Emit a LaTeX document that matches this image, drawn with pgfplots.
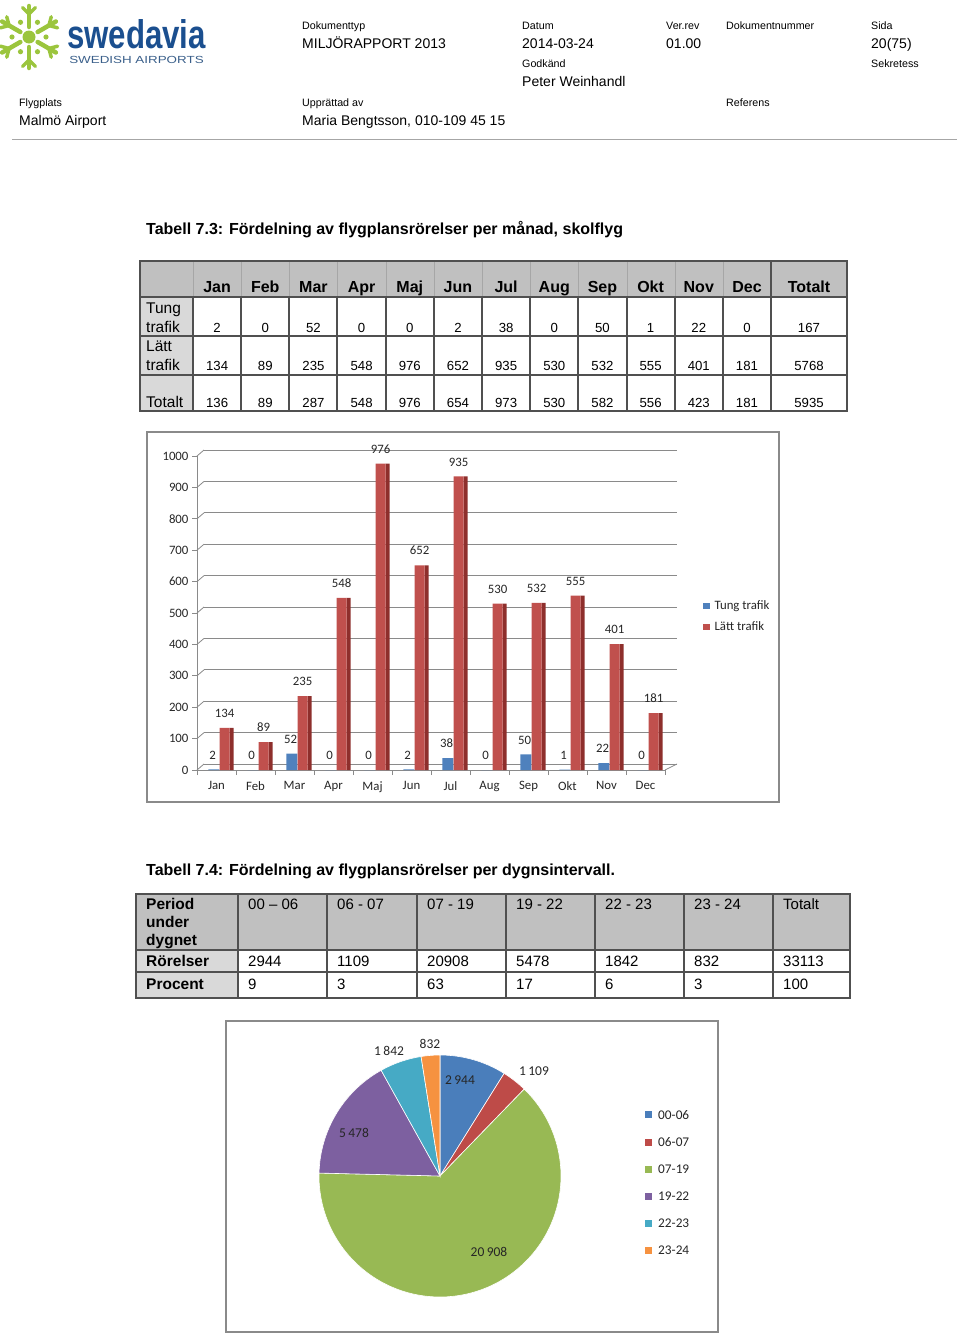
\documentclass[border=0pt]{standalone}
\usepackage{pgfplots}
\pgfplotsset{compat=1.18}
\usepackage{pgfplotstable}
\usepackage{fontspec}
\setmainfont{Liberation Sans}
\newfontfamily\calib{Carlito}
\newcommand\fs[1]{\fontsize{#1}{#1}\selectfont}
\definecolor{tblue}{HTML}{4F81BD}
\definecolor{tred}{HTML}{C0504D}
\definecolor{treddark}{HTML}{8E2F2C}
\definecolor{gridc}{HTML}{8A8A8A}
\definecolor{pie0}{HTML}{4A7EBB}
\definecolor{pie1}{HTML}{BE4B48}
\definecolor{pie2}{HTML}{98B954}
\definecolor{pie3}{HTML}{7D60A0}
\definecolor{pie4}{HTML}{46AAC5}
\definecolor{pie5}{HTML}{F69240}
\definecolor{swgreen}{HTML}{9BC53D}
\definecolor{swblue}{HTML}{1B4F8F}
\definecolor{swlight}{HTML}{3A5F8A}
\definecolor{hdrgray}{HTML}{C0C0C0}
\definecolor{lgray}{HTML}{D9D9D9}
\definecolor{tline}{HTML}{505050}
\pgfplotsset{
  sq/.style={legend image code/.code={\fill[##1] (0pt,-3pt) rectangle (6.5pt,3.5pt); \path (9.5pt,0pt);}},
  sqp/.style={legend image code/.code={\fill[##1] (0pt,-3pt) rectangle (7pt,4pt); \path (11.5pt,0pt);}}}

\pgfplotstableread{
idx m tung latt
0 Jan 2 134
1 Feb 0 89
2 Mar 52 235
3 Apr 0 548
4 Maj 0 976
5 Jun 2 652
6 Jul 38 935
7 Aug 0 530
8 Sep 50 532
9 Okt 1 555
10 Nov 22 401
11 Dec 0 181
}\monthly

\pgfplotstableread{
per val
00-06 2944
06-07 1109
07-19 20908
19-22 5478
22-23 1842
23-24 832
}\daily

\pgfplotstablegetelem{0}{val}\of\daily \edef\vA{\pgfplotsretval}
\pgfplotstablegetelem{1}{val}\of\daily \edef\vB{\pgfplotsretval}
\pgfplotstablegetelem{2}{val}\of\daily \edef\vC{\pgfplotsretval}
\pgfplotstablegetelem{3}{val}\of\daily \edef\vD{\pgfplotsretval}
\pgfplotstablegetelem{4}{val}\of\daily \edef\vE{\pgfplotsretval}
\pgfplotstablegetelem{5}{val}\of\daily \edef\vF{\pgfplotsretval}
\edef\tot{\the\numexpr\vA+\vB+\vC+\vD+\vE+\vF\relax}
% angles in tenths of a degree (integers), clockwise from 12 o'clock
\edef\tA{900}
\edef\tB{\the\numexpr 900-3600*(\vA)/\tot\relax}
\edef\tC{\the\numexpr 900-3600*(\vA+\vB)/\tot\relax}
\edef\tD{\the\numexpr 900-3600*(\vA+\vB+\vC)/\tot\relax}
\edef\tE{\the\numexpr 900-3600*(\vA+\vB+\vC+\vD)/\tot\relax}
\edef\tF{\the\numexpr 900-3600*(\vA+\vB+\vC+\vD+\vE)/\tot\relax}
\edef\tG{\the\numexpr 900-3600*(\vA+\vB+\vC+\vD+\vE+\vF)/\tot\relax}
\pgfmathsetmacro\aA{\tA/10}
\pgfmathsetmacro\aB{\tB/10}
\pgfmathsetmacro\aC{\tC/10}
\pgfmathsetmacro\aD{\tD/10}
\pgfmathsetmacro\aE{\tE/10}
\pgfmathsetmacro\aF{\tF/10}
\pgfmathsetmacro\aG{\tG/10}
\pgfmathsetmacro\xA{cos(\aA)}\pgfmathsetmacro\yA{sin(\aA)}
\pgfmathsetmacro\xB{cos(\aB)}\pgfmathsetmacro\yB{sin(\aB)}
\pgfmathsetmacro\xC{cos(\aC)}\pgfmathsetmacro\yC{sin(\aC)}
\pgfmathsetmacro\xD{cos(\aD)}\pgfmathsetmacro\yD{sin(\aD)}
\pgfmathsetmacro\xE{cos(\aE)}\pgfmathsetmacro\yE{sin(\aE)}
\pgfmathsetmacro\xF{cos(\aF)}\pgfmathsetmacro\yF{sin(\aF)}

\begin{document}
\begin{tikzpicture}[x=1pt,y=1pt,
  sm/.style={anchor=mid west, inner sep=0pt, font=\fs{10.7}},
  big/.style={anchor=mid west, inner sep=0pt, font=\fs{14}},
  ttl/.style={anchor=mid west, inner sep=0pt, font=\bfseries\fs{16}},
  plab/.style={font=\calib\fs{13.5}, text=black!85, inner sep=0pt}]
\path[use as bounding box] (0,0) rectangle (960,-1336);

% ---------- header ----------
\begin{scope}[shift={(29,-37)}, swgreen, line cap=round]
  \fill (0,0) circle (6.5);
  \foreach \a in {90,150,210,270,330,30} {
    \draw[line width=4.5] (\a:10) -- (\a:31);
    \draw[line width=3.5] (\a:23) -- ++(\a+45:9);
    \draw[line width=3.5] (\a:23) -- ++(\a-45:9);
  }
  \foreach \a in {0,60,120,180,240,300} {
    \fill (\a:17) circle (2.6);
  }
\end{scope}
\node[anchor=base west, inner sep=0pt, font=\bfseries\fs{40}, text=swblue, xscale=0.78] at (67,-48) {swedavia};
\node[anchor=mid west, inner sep=0pt, font=\fs{10.3}, text=swlight, xscale=1.3] at (69,-61) {SWEDISH AIRPORTS};

\node[sm] at (302,-27) {Dokumenttyp};
\node[big] at (302,-46) {MILJÖRAPPORT 2013};
\node[sm] at (522,-27) {Datum};
\node[big] at (522,-46) {2014-03-24};
\node[sm] at (666,-27) {Ver.rev};
\node[big] at (666,-46) {01.00};
\node[sm] at (726,-27) {Dokumentnummer};
\node[sm] at (871,-27) {Sida};
\node[big] at (871,-46) {20(75)};
\node[sm] at (522,-65) {Godkänd};
\node[big] at (522,-84) {Peter Weinhandl};
\node[sm] at (871,-65) {Sekretess};
\node[sm] at (19,-104) {Flygplats};
\node[big] at (19,-123) {Malmö Airport};
\node[sm] at (302,-104) {Upprättad av};
\node[big] at (302,-123) {Maria Bengtsson, 010-109 45 15};
\node[sm] at (726,-104) {Referens};
\draw[black!35, line width=1pt] (12,-139) -- (957,-139);

% ---------- table 7.3 ----------
\node[ttl] at (146,-232) {Tabell 7.3: Fördelning av flygplansrörelser per månad, skolflyg};
\fill[hdrgray] (140,-261) rectangle (847,-297);
\fill[lgray] (140,-297) rectangle (193,-411);
\foreach \x in {193,241,289,337,386,434,482,530,578,627,675,723}
  \draw[black!35, line width=0.6pt] (\x,-261) -- (\x,-297);
\foreach \x in {193,241,289,337,386,434,482,530,578,627,675,723,771}
  \draw[tline, line width=1.1pt] (\x,-297) -- (\x,-411);
\draw[tline, line width=1.1pt] (771,-261) -- (771,-297);
\foreach \y in {297,336,375}
  \draw[tline, line width=1.1pt] (140,-\y) -- (847,-\y);
\draw[tline, line width=1.3pt] (140,-261) rectangle (847,-411);
\foreach \m [count=\i from 0] in {Jan,Feb,Mar,Apr,Maj,Jun,Jul,Aug,Sep,Okt,Nov,Dec}
  \node[inner sep=0pt, anchor=mid, font=\bfseries\fs{16}] at ({217.1+48.17*\i},-290) {\m};
\node[inner sep=0pt, anchor=mid, font=\bfseries\fs{16}] at (809,-290) {Totalt};
\node[anchor=mid west, inner sep=0pt, font=\fs{15.5}] at (146,-311) {Tung};
\node[anchor=mid west, inner sep=0pt, font=\fs{15.5}] at (146,-330) {trafik};
\node[anchor=mid west, inner sep=0pt, font=\fs{15.5}] at (146,-349) {Lätt};
\node[anchor=mid west, inner sep=0pt, font=\fs{15.5}] at (146,-368) {trafik};
\node[anchor=mid west, inner sep=0pt, font=\fs{15.5}] at (146,-405) {Totalt};
\foreach \v [count=\i from 0] in {2,0,52,0,0,2,38,0,50,1,22,0,167}
  \node[inner sep=0pt, anchor=mid, font=\fs{13.2}] at ({\i<12 ? 217.1+48.17*\i : 809},-330) {\v};
\foreach \v [count=\i from 0] in {134,89,235,548,976,652,935,530,532,555,401,181,5768}
  \node[inner sep=0pt, anchor=mid, font=\fs{13.2}] at ({\i<12 ? 217.1+48.17*\i : 809},-368) {\v};
\foreach \v [count=\i from 0] in {136,89,287,548,976,654,973,530,582,556,423,181,5935}
  \node[inner sep=0pt, anchor=mid, font=\fs{13.2}] at ({\i<12 ? 217.1+48.17*\i : 809},-405) {\v};

% ---------- bar chart ----------
\draw[gridc, line width=1.4pt] (147,-432) rectangle (779,-802);
\begin{axis}[at={(204pt,-764pt)}, anchor=south west, scale only axis,
  width=473pt, height=314pt, xmin=0, xmax=1, ymin=0, ymax=1000,
  ytick={0,100,...,1000}, xtick=\empty, yticklabels={},
  ymajorgrids, grid style={gridc, line width=0.8pt},
  axis line style={draw=none}, major tick length=0pt]
\addplot[draw=none] coordinates {(0,0)};
\end{axis}
\begin{axis}[at={(197pt,-770pt)}, anchor=south west, scale only axis,
  width=468pt, height=314pt, xmin=-0.5, xmax=11.5, ymin=0, ymax=1000,
  axis lines*=left, axis line style={gridc, line width=0.8pt},
  ytick={0,100,...,1000}, xtick={0,...,11},
  xticklabels={Jan,Feb,Mar,Apr,Maj,Jun,Jul,Aug,Sep,Okt,Nov,Dec},
  minor xtick={-0.5,0.5,...,11.5},
  tick align=outside, major tick length=5pt, minor tick length=5pt,
  major x tick style={draw=none}, tick style={gridc, line width=0.8pt},
  tick label style={font=\calib\fs{12.8}, text=black!85},
  xticklabel style={yshift=-3pt},
  /pgf/number format/assume math mode=true,
  /pgf/number format/1000 sep={},
  clip=false,
  nodes near coords style={font=\calib\fs{12.8}, text=black!85},
  every node near coord/.append style={anchor=south, inner sep=0pt, yshift=10pt},
  legend style={at={(rel axis cs:1.081,0.545)}, anchor=north west, draw=none, fill=none,
    inner sep=0pt, row sep=6.5pt, font=\calib\fs{12.8}, text=black!85},
  legend cell align=left]
\pgfplotsinvokeforeach{0,100,...,1000}{\draw[gridc, line width=0.8pt] (axis cs:-0.5,#1) -- ++(7pt,6pt);}
\draw[gridc, line width=0.8pt] (axis cs:11.5,0) -- ++(12pt,6pt);
\addplot[ybar, bar width=11pt, bar shift=-2.75pt, fill=tblue, draw=none,
  nodes near coords, every node near coord/.append style={xshift=-4pt}, forget plot]
  table[x=idx, y=tung] {\monthly};
\addplot[ybar, bar width=4pt, bar shift=15pt, fill=treddark, draw=none, forget plot]
  table[x=idx, y=latt] {\monthly};
\addplot[ybar, bar width=10pt, bar shift=8pt, fill=tred, draw=none,
  nodes near coords, every node near coord/.append style={xshift=8pt}, forget plot]
  table[x=idx, y=latt] {\monthly};
\addlegendimage{sq, fill=tblue, draw=none}
\addlegendentry{Tung trafik}
\addlegendimage{sq, fill=tred, draw=none}
\addlegendentry{Lätt trafik}
\end{axis}

% ---------- table 7.4 ----------
\node[ttl] at (146,-873) {Tabell 7.4: Fördelning av flygplansrörelser per dygnsintervall.};
\fill[hdrgray] (136,-894) rectangle (850,-950);
\fill[lgray] (136,-950) rectangle (238,-998);
\foreach \x in {238,327,417,506,595,684,773}
  \draw[tline, line width=1.1pt] (\x,-894) -- (\x,-998);
\foreach \y in {950,972}
  \draw[tline, line width=1.1pt] (136,-\y) -- (850,-\y);
\draw[tline, line width=1.3pt] (136,-894) rectangle (850,-998);
\node[anchor=mid west, inner sep=0pt, font=\bfseries\fs{15.5}] at (146,-907) {Period};
\node[anchor=mid west, inner sep=0pt, font=\bfseries\fs{15.5}] at (146,-925) {under};
\node[anchor=mid west, inner sep=0pt, font=\bfseries\fs{15.5}] at (146,-943) {dygnet};
\node[anchor=mid west, inner sep=0pt, font=\bfseries\fs{15.5}] at (146,-964) {Rörelser};
\node[anchor=mid west, inner sep=0pt, font=\bfseries\fs{15.5}] at (146,-987) {Procent};
\foreach \v/\x in {00 – 06/248,06 - 07/337,07 - 19/427,19 - 22/516,22 - 23/605,23 - 24/694,Totalt/783}
  \node[anchor=mid west, inner sep=0pt, font=\fs{15}] at (\x,-907) {\v};
\foreach \v/\x in {2944/248,1109/337,20908/427,5478/516,1842/605,832/694,33113/783}
  \node[anchor=mid west, inner sep=0pt, font=\fs{15}] at (\x,-964) {\v};
\foreach \v/\x in {9/248,3/337,63/427,17/516,6/605,3/694,100/783}
  \node[anchor=mid west, inner sep=0pt, font=\fs{15}] at (\x,-987) {\v};

% ---------- pie chart ----------
\draw[gridc, line width=1.4pt] (226,-1021) rectangle (718,-1332);
\begin{axis}[at={(319pt,-1297pt)}, anchor=south west, scale only axis,
  width=242pt, height=242pt, xmin=-1, xmax=1, ymin=-1, ymax=1,
  hide axis, clip=false,
  legend style={at={(axis cs:1.69,0.562)}, anchor=north west, draw=none, fill=none,
    inner sep=0pt, row sep=12.8pt, font=\calib\fs{13.3}, text=black!85},
  legend cell align=left]
\fill[pie0, draw=white, line width=0.6pt] (axis cs:0,0) -- (axis cs:\xA,\yA) arc[start angle=\aA, end angle=\aB, radius=121pt] -- cycle;
\fill[pie1, draw=white, line width=0.6pt] (axis cs:0,0) -- (axis cs:\xB,\yB) arc[start angle=\aB, end angle=\aC, radius=121pt] -- cycle;
\fill[pie2, draw=white, line width=0.6pt] (axis cs:0,0) -- (axis cs:\xC,\yC) arc[start angle=\aC, end angle=\aD, radius=121pt] -- cycle;
\fill[pie3, draw=white, line width=0.6pt] (axis cs:0,0) -- (axis cs:\xD,\yD) arc[start angle=\aD, end angle=\aE, radius=121pt] -- cycle;
\fill[pie4, draw=white, line width=0.6pt] (axis cs:0,0) -- (axis cs:\xE,\yE) arc[start angle=\aE, end angle=\aF, radius=121pt] -- cycle;
\fill[pie5, draw=white, line width=0.6pt] (axis cs:0,0) -- (axis cs:\xF,\yF) arc[start angle=\aF, end angle=\aG, radius=121pt] -- cycle;
\node[plab] at (axis cs:0.165,0.793) {2\kern0.18em 944};
\node[plab] at (axis cs:0.777,0.868) {1\kern0.18em 109};
\node[plab] at (axis cs:0.405,-0.628) {20\kern0.18em 908};
\node[plab] at (axis cs:-0.711,0.355) {5\kern0.18em 478};
\node[plab] at (axis cs:-0.421,1.033) {1\kern0.18em 842};
\node[plab] at (axis cs:-0.083,1.091) {832};
\addlegendimage{sqp, fill=pie0, draw=none}\addlegendentry{00-06}
\addlegendimage{sqp, fill=pie1, draw=none}\addlegendentry{06-07}
\addlegendimage{sqp, fill=pie2, draw=none}\addlegendentry{07-19}
\addlegendimage{sqp, fill=pie3, draw=none}\addlegendentry{19-22}
\addlegendimage{sqp, fill=pie4, draw=none}\addlegendentry{22-23}
\addlegendimage{sqp, fill=pie5, draw=none}\addlegendentry{23-24}
\end{axis}
\end{tikzpicture}
\end{document}
